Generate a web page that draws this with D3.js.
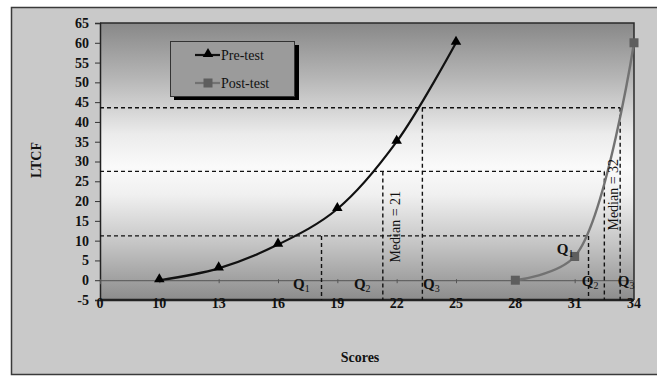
<!DOCTYPE html>
<html><head><meta charset="utf-8">
<script src="https://cdn.jsdelivr.net/npm/d3@7"></script>
<style>html,body{margin:0;padding:0;background:#fff;}svg{display:block;}</style>
</head><body>
<script>
// ---- data ----
const scoreTicks = [0, 10, 13, 16, 19, 22, 25, 28, 31, 34];
const ltcfTicks = [-5, 0, 5, 10, 15, 20, 25, 30, 35, 40, 45, 50, 55, 60, 65];
const preScores = [10, 13, 16, 19, 22, 25];
const preLTCF = [0, 3, 9, 18, 35, 60];
const postScores = [28, 31, 34];
const postLTCF = [0, 6, 60];
const quartileLevels = [11.2, 27.5, 43.6];      // LTCF at Q1, median, Q3
const preQuartiles = [18.2, 21.3, 23.3];        // scores at Q1, median, Q3
const postQuartiles = [31.7, 32.5, 33.3];
const seriesNames = ["Pre-test", "Post-test"];
const qLabels = [
  {sub: "1", s: 16.76, v: -2.2}, {sub: "2", s: 19.84, v: -2.2}, {sub: "3", s: 23.33, v: -2.2},
  {sub: "1", s: 30.1, v: 6.6}, {sub: "2", s: 31.36, v: -1.4}, {sub: "3", s: 33.18, v: -1.4}
];
const medianLabels = [{t: "Median = 21", s: 21.93, v: 13.5}, {t: "Median = 32", s: 32.95, v: 21.6}];

// ---- layout ----
const W = 657, H = 376;
const L = 100, R = 634, T = 23, B = 300;
const svg = d3.select("body").append("svg").attr("width", W).attr("height", H);
const font = "'Liberation Serif','Times New Roman',serif";

const x = d3.scaleLinear().domain(scoreTicks)
  .range(scoreTicks.map((d, i) => L + i * (R - L) / (scoreTicks.length - 1)));
const y = d3.scaleLinear().domain([-5, 65]).range([B, T]);

// outer background
svg.append("rect").attr("x", 0).attr("y", 0).attr("width", W).attr("height", H).attr("fill", "#fff");
svg.append("rect").attr("x", 11.5).attr("y", 7.5).attr("width", W).attr("height", 367)
  .attr("fill", "#c9c9c9").attr("stroke", "#3a3a3a").attr("stroke-width", 1.5);

// plot gradient
const defs = svg.append("defs");
const g1 = defs.append("linearGradient").attr("id", "pg").attr("x1", 0).attr("x2", 0).attr("y1", 0).attr("y2", 1);
[[0, "#888888"], [0.2, "#b6b6b6"], [0.4, "#ebebeb"], [0.52, "#fafafa"], [0.62, "#f0f0f0"], [0.8, "#c4c4c4"], [1, "#8c8c8c"]]
  .forEach(([o, c]) => g1.append("stop").attr("offset", o).attr("stop-color", c));
svg.append("rect").attr("x", L).attr("y", T).attr("width", R - L).attr("height", B - T).attr("fill", "url(#pg)");

// plot border
svg.append("path").attr("d", `M${L},${T}H${R}V${B}`).attr("fill", "none").attr("stroke", "#2a2a2a").attr("stroke-width", 1.5);
svg.append("line").attr("x1", L).attr("x2", R).attr("y1", B).attr("y2", B).attr("stroke", "#222").attr("stroke-width", 2.5);

// y axis
const yAx = svg.append("g").attr("transform", `translate(${L},0)`)
  .call(d3.axisLeft(y).tickValues(ltcfTicks).tickSize(5).tickPadding(6).tickFormat(d => String(d)));
yAx.select(".domain").attr("stroke", "#222").attr("stroke-width", 1.5);
yAx.selectAll(".tick line").attr("stroke", "#333");
yAx.selectAll("text").attr("font-family", font).attr("font-weight", "bold").attr("font-size", 14).attr("fill", "#111");

// x axis at y=0
const xAx = svg.append("g").attr("transform", `translate(0,${y(0)})`)
  .call(d3.axisBottom(x).tickValues(scoreTicks).tickSize(4).tickFormat(""));
xAx.select(".domain").attr("stroke", "#555").attr("stroke-width", 1);
xAx.selectAll(".tick line").attr("stroke", "#555").attr("transform", "translate(0,-1)");
// x tick labels at bottom
svg.append("g").selectAll("text").data(scoreTicks).join("text")
  .attr("x", d => x(d)).attr("y", 308).attr("text-anchor", "middle")
  .attr("font-family", font).attr("font-weight", "bold").attr("font-size", 14).attr("fill", "#111")
  .text(d => d);

// dashed quartile lines
const dash = "4,3";
const gq = svg.append("g").attr("stroke", "#111").attr("stroke-width", 1.4).attr("stroke-dasharray", dash).attr("fill", "none");
quartileLevels.forEach((lv, i) => {
  gq.append("line").attr("x1", L).attr("x2", x(postQuartiles[i])).attr("y1", y(lv)).attr("y2", y(lv));
  gq.append("line").attr("x1", x(preQuartiles[i])).attr("x2", x(preQuartiles[i])).attr("y1", y(lv)).attr("y2", B);
  gq.append("line").attr("x1", x(postQuartiles[i])).attr("x2", x(postQuartiles[i])).attr("y1", y(lv)).attr("y2", B);
});

// lines
const preData = preScores.map((s, i) => [s, preLTCF[i]]);
const postData = postScores.map((s, i) => [s, postLTCF[i]]);
const line = d3.line().x(d => x(d[0])).y(d => y(d[1])).curve(d3.curveCatmullRom.alpha(0.5));
svg.append("path").datum(preData).attr("d", line).attr("fill", "none").attr("stroke", "#111").attr("stroke-width", 2.2);
svg.append("path").datum(postData).attr("d", line).attr("fill", "none").attr("stroke", "#727272").attr("stroke-width", 2.4);

const tri = d3.symbol().type(d3.symbolTriangle).size(48);
svg.append("g").selectAll("path").data(preData).join("path")
  .attr("d", tri).attr("transform", d => `translate(${x(d[0])},${y(d[1]) - 1})`).attr("fill", "#000");
svg.append("g").selectAll("rect").data(postData).join("rect")
  .attr("x", d => x(d[0]) - 4.5).attr("y", d => y(d[1]) - 4.5).attr("width", 9).attr("height", 9).attr("fill", "#5e5e5e");

// Q labels
const ql = svg.append("g").selectAll("text").data(qLabels).join("text")
  .attr("x", d => x(d.s)).attr("y", d => y(d.v))
  .attr("font-family", font).attr("font-weight", "bold").attr("font-size", 15).attr("fill", "#111");
ql.append("tspan").text("Q");
ql.append("tspan").attr("font-size", 10).attr("font-weight", "normal").attr("dy", 3).text(d => d.sub);

// median labels
svg.append("g").selectAll("text").data(medianLabels).join("text")
  .attr("transform", d => `translate(${x(d.s)},${y(d.v)}) rotate(-90)`)
  .attr("text-anchor", "middle").attr("dy", "0.35em")
  .attr("font-family", font).attr("font-size", 14).attr("fill", "#111").text(d => d.t);

// legend
const lg = svg.append("g");
lg.append("rect").attr("x", 174).attr("y", 45).attr("width", 125).attr("height", 55).attr("fill", "#000");
lg.append("rect").attr("x", 170.5).attr("y", 41.5).attr("width", 124).attr("height", 55)
  .attr("fill", "#9b9b9b").attr("stroke", "#333").attr("stroke-width", 1);
const items = lg.selectAll("g").data(seriesNames).join("g")
  .attr("transform", (d, i) => `translate(0,${55 + i * 28})`);
items.append("line").attr("x1", 195).attr("x2", 220).attr("y1", 0).attr("y2", 0)
  .attr("stroke", (d, i) => i ? "#727272" : "#111").attr("stroke-width", 2.2);
items.each(function(d, i) {
  const g = d3.select(this);
  if (i === 0) g.append("path").attr("d", tri).attr("transform", "translate(208,-1)").attr("fill", "#000");
  else g.append("rect").attr("x", 203.5).attr("y", -4.5).attr("width", 9).attr("height", 9).attr("fill", "#5e5e5e");
});
items.append("text").attr("x", 221).attr("y", 5).attr("font-family", font).attr("font-size", 14).attr("fill", "#111").text(d => d);

// axis titles
svg.append("text").attr("transform", "translate(41,160) rotate(-90)").attr("text-anchor", "middle")
  .attr("font-family", font).attr("font-weight", "bold").attr("font-size", 14).attr("fill", "#111").text("LTCF");
svg.append("text").attr("x", 360).attr("y", 362).attr("text-anchor", "middle")
  .attr("font-family", font).attr("font-weight", "bold").attr("font-size", 14).attr("fill", "#111").text("Scores");
</script>
</body></html>
